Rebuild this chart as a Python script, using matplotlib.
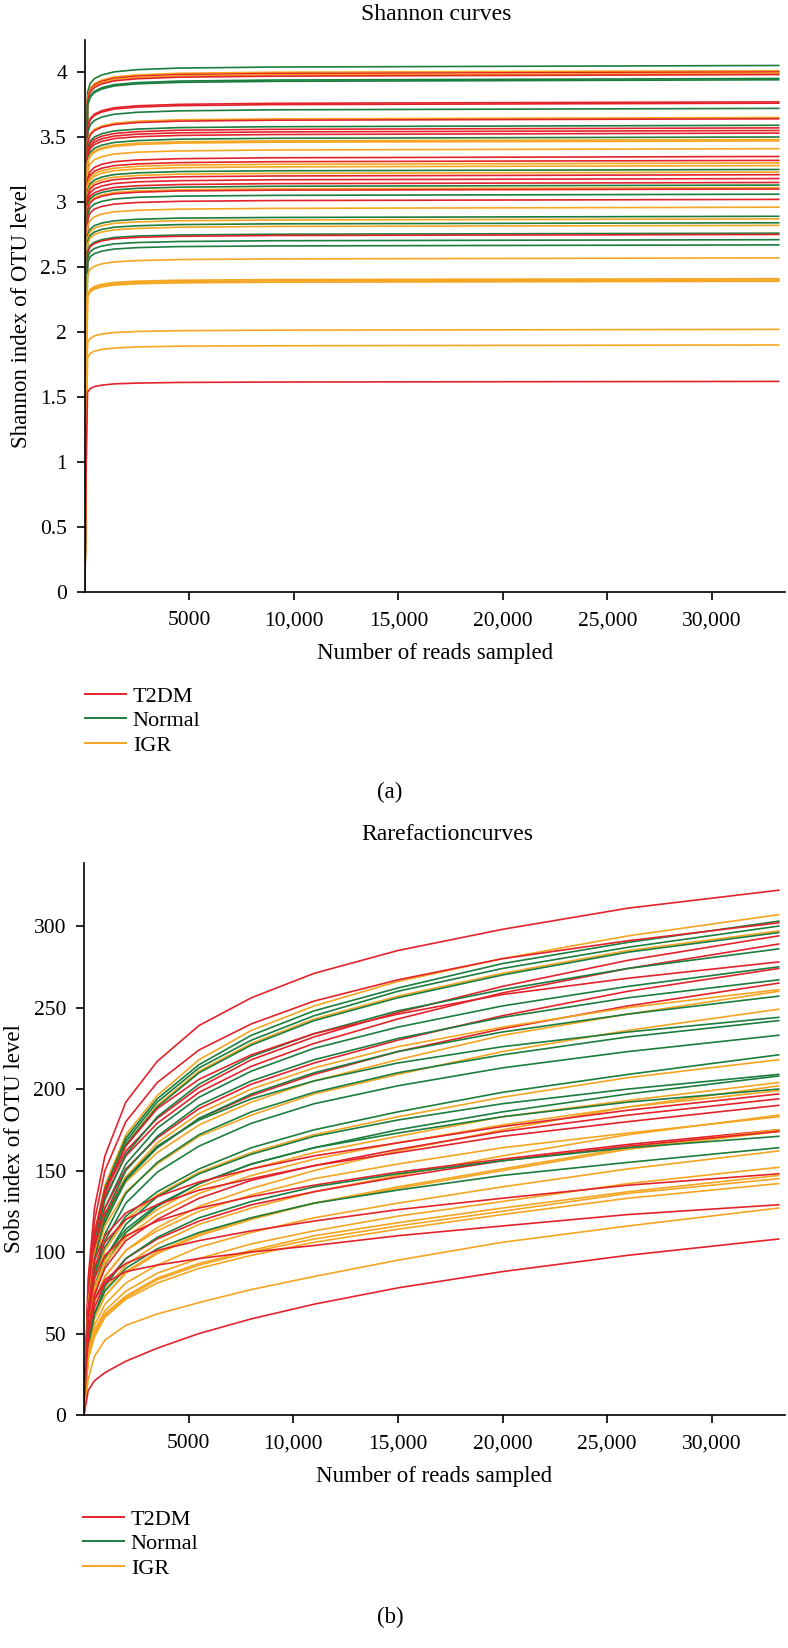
import matplotlib
matplotlib.use('Agg')
import matplotlib.pyplot as plt
from matplotlib.lines import Line2D
from matplotlib.ticker import FuncFormatter

# ================= 数据 =================
groups = ['T2DM', 'Normal', 'IGR']
colors = {'T2DM': '#e3232b', 'Normal': '#1b7d3e', 'IGR': '#f4a521'}

# (a) Shannon 曲线：采样点 (reads)
reads_a = [0, 50, 120, 250, 450, 800, 1400, 2500, 4500, 9000, 33200]
shannon_group = ['Normal', 'IGR', 'T2DM', 'IGR', 'T2DM', 'Normal', 'Normal',
                 'T2DM', 'T2DM', 'Normal', 'IGR', 'T2DM', 'Normal', 'T2DM',
                 'T2DM', 'T2DM', 'Normal', 'IGR', 'IGR', 'IGR', 'T2DM', 'T2DM',
                 'IGR', 'IGR', 'Normal', 'IGR', 'T2DM', 'T2DM', 'T2DM', 'Normal',
                 'IGR', 'T2DM', 'Normal', 'T2DM', 'IGR', 'Normal', 'IGR', 'Normal',
                 'IGR', 'Normal', 'T2DM', 'Normal', 'Normal', 'IGR', 'IGR', 'IGR',
                 'IGR', 'IGR', 'IGR', 'T2DM']
shannon_vals = [
    [0, 2.228, 3.843, 3.912, 3.949, 3.977, 4.001, 4.018, 4.030, 4.038, 4.05],
    [0, 2.206, 3.806, 3.874, 3.910, 3.938, 3.962, 3.978, 3.990, 3.998, 4.01],
    [0, 2.200, 3.796, 3.864, 3.900, 3.928, 3.952, 3.968, 3.980, 3.988, 4.00],
    [0, 2.195, 3.787, 3.854, 3.890, 3.918, 3.942, 3.958, 3.970, 3.978, 3.99],
    [0, 2.189, 3.777, 3.845, 3.881, 3.908, 3.932, 3.948, 3.960, 3.968, 3.98],
    [0, 2.173, 3.749, 3.816, 3.851, 3.879, 3.903, 3.918, 3.930, 3.938, 3.95],
    [0, 2.167, 3.739, 3.806, 3.842, 3.869, 3.893, 3.909, 3.920, 3.928, 3.94],
    [0, 2.074, 3.578, 3.642, 3.676, 3.702, 3.725, 3.740, 3.751, 3.759, 3.77],
    [0, 2.068, 3.568, 3.632, 3.666, 3.692, 3.715, 3.730, 3.741, 3.749, 3.76],
    [0, 2.046, 3.530, 3.594, 3.627, 3.653, 3.675, 3.690, 3.701, 3.709, 3.72],
    [0, 2.008, 3.464, 3.526, 3.559, 3.584, 3.606, 3.621, 3.632, 3.639, 3.65],
    [0, 2.002, 3.454, 3.516, 3.549, 3.575, 3.596, 3.611, 3.622, 3.629, 3.64],
    [0, 1.975, 3.407, 3.468, 3.500, 3.525, 3.547, 3.561, 3.572, 3.579, 3.59],
    [0, 1.964, 3.388, 3.449, 3.481, 3.506, 3.527, 3.541, 3.552, 3.559, 3.57],
    [0, 1.953, 3.369, 3.429, 3.461, 3.486, 3.507, 3.522, 3.532, 3.539, 3.55],
    [0, 1.942, 3.350, 3.410, 3.442, 3.466, 3.488, 3.502, 3.512, 3.519, 3.53],
    [0, 1.925, 3.322, 3.381, 3.413, 3.437, 3.458, 3.472, 3.483, 3.490, 3.50],
    [0, 1.914, 3.303, 3.362, 3.393, 3.417, 3.438, 3.452, 3.463, 3.470, 3.48],
    [0, 1.909, 3.293, 3.352, 3.383, 3.408, 3.428, 3.442, 3.453, 3.460, 3.47],
    [0, 1.876, 3.236, 3.294, 3.325, 3.349, 3.369, 3.383, 3.393, 3.400, 3.41],
    [0, 1.843, 3.179, 3.236, 3.266, 3.290, 3.310, 3.323, 3.333, 3.340, 3.35],
    [0, 1.826, 3.151, 3.207, 3.237, 3.260, 3.280, 3.293, 3.303, 3.310, 3.32],
    [0, 1.815, 3.132, 3.188, 3.218, 3.241, 3.260, 3.274, 3.284, 3.290, 3.30],
    [0, 1.804, 3.113, 3.169, 3.198, 3.221, 3.241, 3.254, 3.264, 3.270, 3.28],
    [0, 1.788, 3.084, 3.140, 3.169, 3.192, 3.211, 3.224, 3.234, 3.240, 3.25],
    [0, 1.777, 3.065, 3.120, 3.149, 3.172, 3.191, 3.204, 3.214, 3.220, 3.23],
    [0, 1.766, 3.046, 3.101, 3.130, 3.152, 3.172, 3.184, 3.194, 3.200, 3.21],
    [0, 1.749, 3.018, 3.072, 3.101, 3.123, 3.142, 3.155, 3.164, 3.171, 3.18],
    [0, 1.733, 2.989, 3.043, 3.071, 3.093, 3.112, 3.125, 3.134, 3.141, 3.15],
    [0, 1.722, 2.970, 3.024, 3.052, 3.074, 3.092, 3.105, 3.114, 3.121, 3.13],
    [0, 1.711, 2.951, 3.004, 3.032, 3.054, 3.073, 3.085, 3.094, 3.101, 3.11],
    [0, 1.705, 2.942, 2.995, 3.023, 3.044, 3.063, 3.075, 3.085, 3.091, 3.10],
    [0, 1.683, 2.904, 2.956, 2.984, 3.005, 3.023, 3.036, 3.045, 3.051, 3.06],
    [0, 1.661, 2.866, 2.917, 2.945, 2.966, 2.984, 2.996, 3.005, 3.011, 3.02],
    [0, 1.628, 2.809, 2.859, 2.886, 2.907, 2.925, 2.936, 2.945, 2.951, 2.96],
    [0, 1.590, 2.743, 2.792, 2.818, 2.838, 2.855, 2.867, 2.876, 2.881, 2.89],
    [0, 1.579, 2.724, 2.772, 2.798, 2.818, 2.836, 2.847, 2.856, 2.861, 2.87],
    [0, 1.562, 2.695, 2.743, 2.769, 2.789, 2.806, 2.817, 2.826, 2.832, 2.84],
    [0, 1.551, 2.676, 2.724, 2.750, 2.769, 2.786, 2.797, 2.806, 2.812, 2.82],
    [0, 1.518, 2.619, 2.666, 2.691, 2.710, 2.727, 2.738, 2.746, 2.752, 2.76],
    [0, 1.513, 2.610, 2.657, 2.681, 2.701, 2.717, 2.728, 2.736, 2.742, 2.75],
    [0, 1.491, 2.572, 2.618, 2.642, 2.661, 2.678, 2.688, 2.696, 2.702, 2.71],
    [0, 1.469, 2.534, 2.579, 2.603, 2.622, 2.638, 2.649, 2.657, 2.662, 2.67],
    [0, 1.414, 2.439, 2.483, 2.506, 2.524, 2.539, 2.549, 2.557, 2.562, 2.57],
    [0, 1.326, 2.287, 2.328, 2.350, 2.367, 2.381, 2.391, 2.398, 2.403, 2.41],
    [0, 1.320, 2.278, 2.318, 2.340, 2.357, 2.371, 2.381, 2.388, 2.393, 2.40],
    [0, 1.315, 2.268, 2.309, 2.330, 2.347, 2.361, 2.371, 2.378, 2.383, 2.39],
    [0, 1.111, 1.917, 1.951, 1.970, 1.984, 1.996, 2.004, 2.010, 2.014, 2.02],
    [0, 1.045, 1.803, 1.835, 1.853, 1.866, 1.877, 1.885, 1.891, 1.894, 1.90],
    [0, 0.891, 1.537, 1.565, 1.580, 1.591, 1.601, 1.607, 1.612, 1.615, 1.62],
]

# (b) 稀释曲线 (Sobs)
reads_b = [0, 200, 500, 1000, 2000, 3500, 5500, 8000, 11000, 15000, 20000, 26000, 33200]
sobs_group = ['T2DM', 'IGR', 'Normal', 'T2DM', 'Normal', 'IGR', 'Normal', 'T2DM',
              'T2DM', 'Normal', 'T2DM', 'Normal', 'T2DM', 'Normal', 'T2DM', 'IGR',
              'IGR', 'Normal', 'IGR', 'Normal', 'Normal', 'Normal', 'Normal', 'IGR',
              'Normal', 'Normal', 'IGR', 'IGR', 'Normal', 'IGR', 'T2DM', 'T2DM',
              'T2DM', 'IGR', 'IGR', 'T2DM', 'IGR', 'IGR', 'T2DM', 'Normal',
              'Normal', 'IGR', 'IGR', 'T2DM', 'IGR', 'IGR', 'IGR', 'T2DM', 'IGR',
              'T2DM']
sobs_vals = [
    [0, 84, 127, 159, 192, 217, 239, 256, 271, 285, 298, 311, 322],
    [0, 74, 112, 141, 172, 196, 218, 236, 251, 266, 280, 294, 307],
    [0, 73, 111, 139, 170, 194, 215, 233, 248, 262, 277, 290, 303],
    [0, 79, 119, 150, 180, 204, 224, 240, 254, 267, 280, 291, 302],
    [0, 72, 110, 138, 168, 192, 213, 230, 245, 260, 274, 287, 300],
    [0, 71, 108, 137, 166, 190, 211, 228, 243, 257, 271, 285, 297],
    [0, 71, 108, 136, 166, 189, 210, 227, 242, 256, 270, 284, 296],
    [0, 76, 112, 137, 162, 182, 201, 218, 232, 247, 263, 279, 294],
    [0, 75, 110, 134, 159, 179, 198, 214, 228, 243, 259, 274, 289],
    [0, 69, 104, 132, 160, 183, 203, 220, 234, 248, 261, 274, 286],
    [0, 72, 110, 138, 165, 188, 206, 221, 234, 246, 258, 268, 278],
    [0, 66, 100, 127, 154, 176, 195, 211, 225, 238, 251, 263, 275],
    [0, 71, 104, 127, 151, 170, 188, 203, 216, 230, 245, 260, 274],
    [0, 64, 97, 123, 150, 171, 190, 205, 218, 231, 244, 256, 267],
    [0, 69, 101, 123, 146, 164, 182, 196, 209, 223, 237, 251, 265],
    [0, 63, 95, 120, 146, 167, 185, 200, 213, 226, 238, 250, 261],
    [0, 68, 99, 121, 143, 161, 178, 192, 205, 218, 233, 246, 260],
    [0, 62, 94, 118, 144, 164, 182, 197, 210, 223, 235, 246, 257],
    [0, 65, 95, 116, 137, 154, 171, 184, 197, 209, 223, 236, 249],
    [0, 63, 96, 121, 145, 165, 181, 194, 205, 216, 226, 235, 244],
    [0, 58, 88, 111, 136, 155, 172, 186, 198, 210, 221, 232, 242],
    [0, 56, 85, 107, 130, 149, 165, 179, 191, 202, 213, 223, 233],
    [0, 57, 84, 103, 122, 137, 151, 164, 175, 186, 198, 209, 221],
    [0, 57, 83, 101, 120, 135, 149, 161, 172, 183, 195, 207, 218],
    [0, 50, 76, 96, 117, 134, 148, 160, 171, 181, 191, 200, 209],
    [0, 54, 79, 97, 114, 129, 142, 154, 164, 175, 186, 197, 208],
    [0, 53, 78, 95, 112, 126, 140, 151, 161, 171, 183, 193, 204],
    [0, 48, 69, 85, 101, 115, 128, 139, 150, 162, 175, 189, 202],
    [0, 48, 73, 92, 112, 128, 142, 154, 164, 173, 183, 192, 200],
    [0, 52, 76, 93, 109, 123, 136, 147, 157, 167, 178, 189, 199],
    [0, 65, 95, 110, 124, 134, 143, 151, 159, 167, 177, 187, 197],
    [0, 50, 74, 90, 107, 120, 133, 144, 153, 163, 174, 184, 194],
    [0, 63, 91, 106, 120, 129, 138, 145, 153, 161, 171, 180, 190],
    [0, 44, 63, 77, 92, 105, 117, 127, 137, 147, 159, 172, 184],
    [0, 48, 70, 85, 101, 113, 125, 135, 145, 154, 164, 173, 183],
    [0, 58, 84, 98, 110, 119, 127, 134, 141, 149, 157, 166, 175],
    [0, 42, 60, 73, 88, 100, 111, 121, 130, 140, 151, 164, 175],
    [0, 42, 59, 73, 87, 99, 110, 120, 130, 139, 150, 163, 174],
    [0, 45, 66, 81, 96, 108, 119, 129, 137, 146, 156, 165, 174],
    [0, 41, 62, 79, 96, 109, 121, 131, 140, 148, 156, 164, 171],
    [0, 43, 62, 76, 90, 102, 112, 121, 130, 138, 147, 155, 164],
    [0, 39, 55, 68, 81, 92, 103, 112, 121, 130, 140, 151, 162],
    [0, 36, 52, 64, 76, 87, 96, 105, 113, 122, 131, 142, 152],
    [0, 49, 71, 83, 93, 101, 107, 113, 119, 126, 133, 141, 148],
    [0, 35, 50, 62, 73, 84, 93, 101, 110, 118, 127, 137, 147],
    [0, 35, 49, 61, 72, 83, 92, 100, 108, 116, 125, 136, 145],
    [0, 34, 48, 60, 71, 81, 90, 98, 106, 114, 123, 133, 142],
    [0, 52, 71, 81, 88, 92, 96, 100, 104, 110, 116, 123, 129],
    [0, 22, 36, 46, 55, 62, 69, 77, 85, 95, 106, 116, 127],
    [0, 15, 21, 26, 33, 41, 50, 59, 68, 78, 88, 98, 108],
]

xticks = [5000, 10000, 15000, 20000, 25000, 30000]

# ================= 绘图 =================
plt.rcParams['font.family'] = ['Liberation Serif', 'DejaVu Serif']
FS_TICK = 15.5
FS_LABEL = 16.5
FS_TITLE = 17

fig = plt.figure(figsize=(7.88, 16.48), dpi=100)
W, H = 788, 1648


def fmt(v, pos):
    return f'{int(v)}' if v < 10000 else f'{int(v):,}'


def setup_axes(ax, ylim, yticks, ylabels, ylabel):
    ax.set_xlim(0, 33500)
    ax.set_ylim(*ylim)
    ax.spines['top'].set_visible(False)
    ax.spines['right'].set_visible(False)
    ax.spines['left'].set_linewidth(1.2)
    ax.spines['bottom'].set_linewidth(1.2)
    ax.set_xticks(xticks)
    ax.xaxis.set_major_formatter(FuncFormatter(fmt))
    ax.set_yticks(yticks)
    ax.set_yticklabels(ylabels)
    ax.tick_params(axis='both', direction='out', length=6, width=1.2, labelsize=FS_TICK)
    ax.tick_params(axis='x', pad=8)
    ax.tick_params(axis='y', pad=7)
    ax.set_xlabel('Number of reads sampled', fontsize=FS_LABEL, labelpad=9)
    ax.set_ylabel(ylabel, fontsize=FS_LABEL, labelpad=6)


def add_legend(x_px, y_px):
    handles = [Line2D([0], [0], color=colors[g], lw=1.4) for g in groups]
    fig.legend(handles, groups, loc='upper left', bbox_to_anchor=(x_px / W, 1 - y_px / H),
               bbox_transform=fig.transFigure, frameon=False, fontsize=16,
               handlelength=1.85, handletextpad=0.3, labelspacing=0.18,
               borderpad=0, borderaxespad=0)


# ---- (a) Shannon curves ----
ax1 = fig.add_axes([85 / W, 1 - 592 / H, 700 / W, 552 / H])
for g, v in zip(shannon_group, shannon_vals):
    ax1.plot(reads_a, v, color=colors[g], lw=1.2)
setup_axes(ax1, (0, 4.246), [0, 0.5, 1, 1.5, 2, 2.5, 3, 3.5, 4],
           ['0', '0.5', '1', '1.5', '2', '2.5', '3', '3.5', '4'], 'Shannon index of OTU level')
fig.text(436 / W, 1 - 15 / H, 'Shannon curves', ha='center', va='center', fontsize=FS_TITLE)
add_legend(85, 686)
fig.text(390 / W, 1 - 792 / H, '(a)', ha='center', va='center', fontsize=FS_LABEL)

# ---- (b) Rarefaction curves ----
ax2 = fig.add_axes([84 / W, 1 - 1415 / H, 701 / W, 552 / H])
for g, v in zip(sobs_group, sobs_vals):
    ax2.plot(reads_b, v, color=colors[g], lw=1.2)
setup_axes(ax2, (0, 338.7), [0, 50, 100, 150, 200, 250, 300],
           ['0', '50', '100', '150', '200', '250', '300'], 'Sobs index of OTU level')
fig.text(447 / W, 1 - 834 / H, 'Rarefactioncurves', ha='center', va='center', fontsize=FS_TITLE)
add_legend(83, 1509)
fig.text(390 / W, 1 - 1617 / H, '(b)', ha='center', va='center', fontsize=FS_LABEL)

fig.savefig('out.png', dpi=100)
